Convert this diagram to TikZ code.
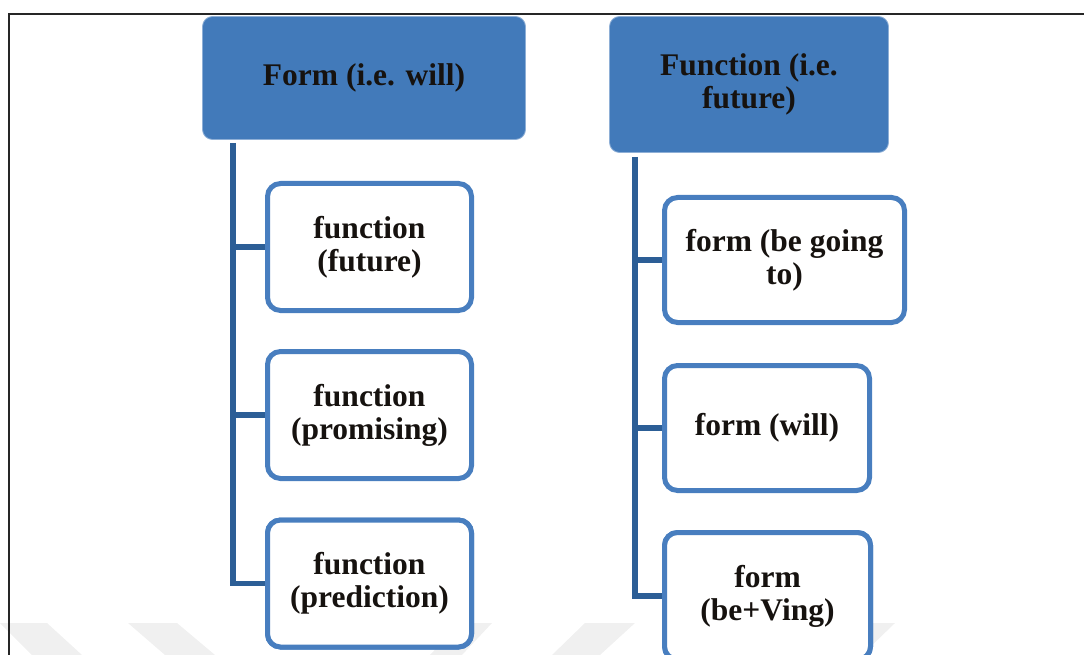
\documentclass[tikz,border=0pt]{standalone}
\usepackage{fontspec}
\setmainfont{Liberation Serif}
\definecolor{hdr}{RGB}{66,122,186}
\definecolor{outl}{RGB}{72,126,191}
\definecolor{spine}{RGB}{44,94,150}
\definecolor{txt}{RGB}{22,18,15}
\definecolor{wm}{RGB}{240,240,240}
\begin{document}
\begin{tikzpicture}[x=1pt,y=-1pt,
  every node/.style={font=\bfseries\fontsize{31.5}{33}\selectfont, text=txt, align=center, inner sep=0pt},
  header/.style={rectangle, rounded corners=10pt, fill=hdr, draw=hdr!60!white, line width=0.8pt},
  child/.style={rectangle, rounded corners=13pt, fill=white, draw=outl, line width=5pt},
  conn/.style={draw=spine, line width=5.5pt}]
\useasboundingbox (0,0) rectangle (1084,655);
% watermark
\fill[wm] (0,623) -- (47,623) -- (82,655) -- (32,655) -- cycle;
\fill[wm] (128,623) -- (177,623) -- (215,655) -- (165,655) -- cycle;
\fill[wm] (460,623) -- (492,623) -- (462,655) -- (430,655) -- cycle;
\fill[wm] (585,623) -- (635,623) -- (600,655) -- (552,655) -- cycle;
\fill[wm] (862,623) -- (895,623) -- (862,655) -- (830,655) -- cycle;
% frame
\draw[line width=1.5pt, black!85] (8,14) -- (1084,14);
\draw[line width=1.5pt, black!85] (9,14) -- (9,655);
% headers
\node[header, minimum width=323pt, minimum height=123pt] (A) at (364,78) {Form (i.e. will)};
\node[header, minimum width=279pt, minimum height=136pt] (B) at (749,84.5) {Function (i.e.\\future)};
% left children
\node[child, minimum width=204pt, minimum height=127pt] (L1) at (369.5,247) {function\\(future)};
\node[child, minimum width=204pt, minimum height=127pt] (L2) at (369.5,415) {function\\(promising)};
\node[child, minimum width=204pt, minimum height=127pt] (L3) at (369.5,583.5) {function\\(prediction)};
% right children
\node[child, minimum width=240pt, minimum height=125pt] (R1) at (784.5,260) {form (be going\\to)};
\node[child, minimum width=205pt, minimum height=125pt] (R2) at (767,428) {form (will)};
\node[child, minimum width=206pt, minimum height=127pt] (R3) at (767.5,596) {form\\(be+Ving)};
% connectors
\coordinate (sa) at (233,143);
\coordinate (sb) at (635,157);
\draw[conn] (sa) |- (L3.west);
\draw[conn] (L1.west) -- (L1.west -| sa);
\draw[conn] (L2.west) -- (L2.west -| sa);
\draw[conn] (sb) |- (R3.west);
\draw[conn] (R1.west) -- (R1.west -| sb);
\draw[conn] (R2.west) -- (R2.west -| sb);
% redraw children on top of stubs
\node[child, minimum width=204pt, minimum height=127pt] at (L3) {function\\(prediction)};
\node[child, minimum width=206pt, minimum height=127pt] at (R3) {form\\(be+Ving)};
\end{tikzpicture}
\end{document}
